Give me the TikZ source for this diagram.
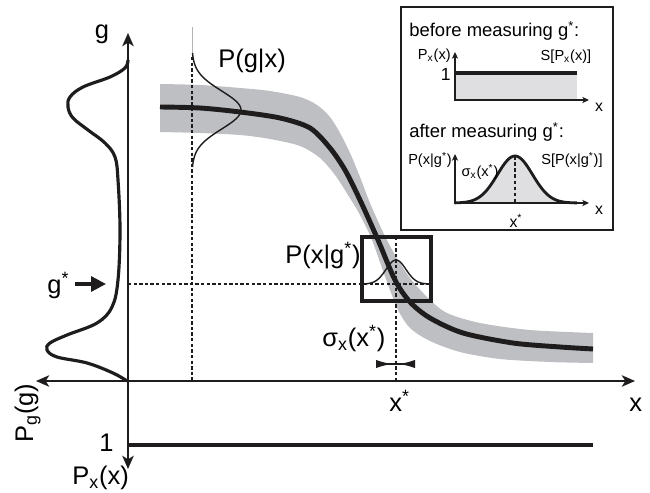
\documentclass[tikz,border=0pt]{standalone}
\usepackage{fontspec}
\setmainfont{Liberation Sans}
\usetikzlibrary{arrows.meta}
\definecolor{bandgray}{RGB}{190,191,195}
\definecolor{lightfill}{RGB}{223,223,226}
\definecolor{inkblack}{RGB}{30,28,29}
\newcommand\mysub[1]{\textsubscript{#1}}
\newcommand\mystar{\textsuperscript{*}}
\tikzset{
  mainlbl/.style={font=\fontsize{14.5}{17}\selectfont, inner sep=0pt},
  headlbl/.style={font=\fontsize{10.5}{12}\selectfont, inner sep=0pt},
  smalllbl/.style={font=\fontsize{8.3}{10}\selectfont, inner sep=0pt},
  insetnum/.style={font=\fontsize{10}{12}\selectfont, inner sep=0pt},
  insetx/.style={font=\fontsize{9}{11}\selectfont, inner sep=0pt},
  bigtip/.tip={Stealth[length=7.5pt,width=6.5pt,inset=2pt]},
  smalltip/.tip={Stealth[length=3.8pt,width=3.5pt,inset=1pt]},
  axisline/.style={line width=1.2pt, draw=inkblack, bigtip-bigtip},
  insetaxis/.style={line width=1.1pt, draw=inkblack, smalltip-smalltip},
  dotline/.style={line width=0.85pt, draw=inkblack, dash pattern=on 1.9pt off 1.3pt},
  mastercurve/.style={line width=2.8pt, draw=inkblack},
  thincurve/.style={line width=0.8pt, draw=inkblack},
  boxframe/.style={line width=2pt, draw=inkblack},
}
\begin{document}
\begin{tikzpicture}[x=0.02cm,y=-0.02cm]
\useasboundingbox (0,0) rectangle (650,493);

% gray band
\fill[bandgray] plot[smooth] coordinates {(160,84) (200,85) (240,88) (270,91) (300,97) (317,105) (330,117) (340,133) (350,153) (360,177) (370,203) (383,232) (395,255) (410,278) (428,298) (447,313) (480,323) (530,330) (593,333)}
 -- plot[smooth] coordinates {(593,363) (550,362) (500,359) (460,352) (430,341) (410,328) (398,310) (390,290) (382,268) (372,240) (360,215) (348,195) (335,175) (320,158) (300,146) (270,139) (240,135) (200,133) (160,132)} -- cycle;

% dotted guide lines
\coordinate (vtop) at (192,27);
\coordinate (vmid) at (192,57);
\coordinate (vbot) at (192,381);
\draw[line width=0.5pt, gray!60] (vtop) -- (vmid);
\draw[dotline] (vmid) -- (vbot);
\coordinate (gsl) at (128,284);
\coordinate (gsr) at (430,284);
\draw[dotline] (gsl) -- (gsr);
\coordinate (xst) at (396,237);
\coordinate (xsb) at (396,381);
\draw[dotline] (xst) -- (xsb);

% master curve
\draw[mastercurve] plot[smooth] coordinates {(160,107) (200,108) (240,112) (280,118) (310,128) (330,148) (345,170) (360,200) (378,240) (395,280) (410,302) (430,318) (463,333) (513,343) (560,347) (593,349)};

% P(g|x)
\draw[thincurve] plot[domain=53:167,samples=80] ({192+49*exp(-0.5*((\x-110)/19)*((\x-110)/19))},\x);

% box with P(x|g*)
\draw[boxframe] (362,237) rectangle (431,301);
\draw[thincurve] plot[domain=363:430,samples=70] (\x,{284-24*exp(-0.5*((\x-396)/10)*((\x-396)/10))});

% sigma bar
\coordinate (sl) at (376,364);
\coordinate (sr) at (415,364);
\draw[line width=1.2pt, draw=inkblack] (sl) -- (sr);
\fill[inkblack] (376,360) .. controls (382,362) .. (391,364) .. controls (382,366) .. (376,368) -- cycle;
\fill[inkblack] (415,360) .. controls (409,362) .. (400,364) .. controls (409,366) .. (415,368) -- cycle;

% P_g(g)
\draw[line width=1.8pt, draw=inkblack] plot[smooth, tension=0.6] coordinates {(128,60) (125,68) (110,77) (83,87) (70,97) (68,107) (73,118) (88,130) (105,143) (115,157) (118,180) (120,230) (118,280) (112,307) (97,323) (67,335) (50,343) (47,350) (57,357) (87,363) (113,373) (127,381)};

% axes
\coordinate (gtop) at (128,33);
\coordinate (gbot) at (128,469);
\coordinate (xleft) at (36,381);
\coordinate (xright) at (635,381);
\draw[axisline] (gbot) -- (gtop);
\draw[axisline] (xleft) -- (xright);

% P_x(x)=1 line
\coordinate (onel) at (128,445);
\coordinate (oner) at (593,445);
\draw[line width=2.2pt, draw=inkblack] (onel) -- (oner);

% g* arrow
\coordinate (gsa) at (75,284);
\coordinate (gsb) at (106,284);
\draw[line width=1.9pt, draw=inkblack, -{Triangle[length=8.5pt,width=8.5pt]}] (gsa) -- (gsb);

% main labels
\node[mainlbl, anchor=base] (lg) at (102,39) {g};
\node[mainlbl, anchor=base west] (lpgx) at (218,68) {P(g|x)};
\node[mainlbl, anchor=base west] (lpxg) at (285,264) {P(x|g\mystar)};
\node[mainlbl, anchor=base west] (lsig) at (322,347) {σ\mysub{x}(x\mystar)};
\node[mainlbl, anchor=base west] (lxs) at (389,412) {x\mystar};
\node[mainlbl, anchor=base west] (lx) at (629,412) {x};
\node[mainlbl, anchor=base east] (lone) at (114,452) {1};
\node[mainlbl, anchor=base west] (lpx) at (72,485) {P\mysub{x}(x)};
\node[mainlbl, anchor=base west, rotate=90] (lpg) at (33,443) {P\mysub{g}(g)};
\node[mainlbl, anchor=base west] (lgs) at (47,294) {g\mystar};

% inset
\draw[line width=1.4pt, draw=inkblack] (401,7) rectangle (613,230);
\node[headlbl, anchor=base west] (hb) at (409,37) {before measuring g\mystar:};
\fill[lightfill] (455,73) rectangle (577,100);
\draw[line width=1.9pt, draw=inkblack] (455,73) -- (577,73);
\coordinate (o1) at (455,100);
\coordinate (o1t) at (455,52);
\coordinate (o1r) at (589,100);
\draw[insetaxis] (o1t) -- (o1) -- (o1r);
\node[smalllbl, anchor=east] (ipx) at (451,56) {P\mysub{x}(x)};
\node[insetnum, anchor=east] (ione) at (451,74) {1};
\node[smalllbl] (isp) at (566,57) {S[P\mysub{x}(x)]};
\node[insetx] (ix1) at (599,107) {x};

\node[headlbl, anchor=base west] (ha) at (409,138) {after measuring g\mystar:};
\fill[lightfill] (455,203) -- plot[domain=455:577,samples=90] (\x,{203-47*exp(-0.5*((\x-515)/17.5)*((\x-515)/17.5))}) -- (577,203) -- cycle;
\draw[line width=1.6pt, draw=inkblack] plot[domain=455:577,samples=90] (\x,{203-47*exp(-0.5*((\x-515)/17.5)*((\x-515)/17.5))});
\coordinate (pk) at (515,156);
\coordinate (pkb) at (515,203);
\draw[line width=1.1pt, draw=inkblack, dash pattern=on 2pt off 1.5pt] (pk) -- (pkb);
\coordinate (o2) at (455,203);
\coordinate (o2t) at (455,154);
\coordinate (o2r) at (589,203);
\draw[insetaxis] (o2t) -- (o2) -- (o2r);
\node[smalllbl] (ipxg) at (430,160) {P(x|g\mystar)};
\node[smalllbl] (isig) at (480,172) {σ\mysub{x}(x\mystar)};
\node[smalllbl] (ispg) at (572,160) {S[P(x|g\mystar)]};
\node[insetx] (ix2) at (599,210) {x};
\node[insetx] (ixs) at (516,221) {x\mystar};
\end{tikzpicture}
\end{document}
